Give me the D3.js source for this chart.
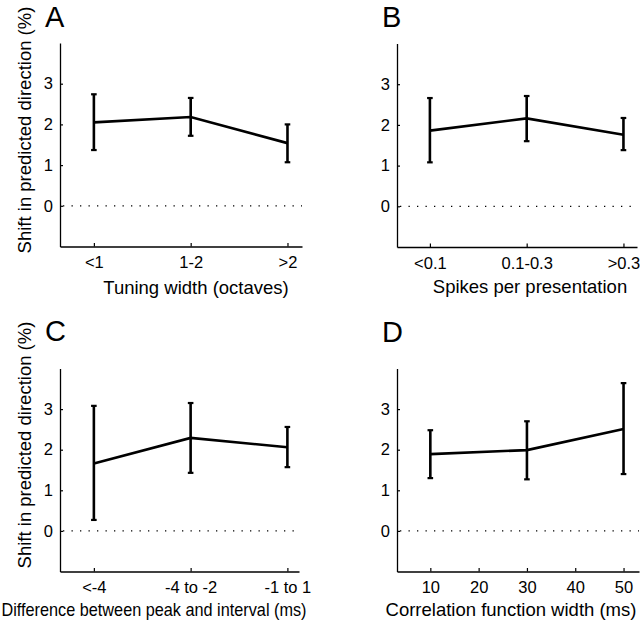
<!DOCTYPE html>
<html>
<head>
<meta charset="utf-8">
<script src="https://cdn.jsdelivr.net/npm/d3@7/dist/d3.min.js"></script>
<style>
  html, body { margin: 0; padding: 0; background: #fff; }
  svg { display: block; font-family: "Liberation Sans", Arial, Helvetica, sans-serif; }
</style>
</head>
<body>
<svg id="chart" width="640" height="620"></svg>
<script>
// ---- Data ----
const yTicks = [0, 1, 2, 3];

const catsA = ["<1", "1-2", ">2"];
const meanA = [2.05, 2.18, 1.54];
const upperA = [2.74, 2.65, 2.00];
const lowerA = [1.37, 1.72, 1.07];

const catsB = ["<0.1", "0.1-0.3", ">0.3"];
const meanB = [1.86, 2.16, 1.76];
const upperB = [2.66, 2.71, 2.17];
const lowerB = [1.08, 1.60, 1.38];

const catsC = ["<-4", "-4 to -2", "-1 to 1"];
const meanC = [1.66, 2.29, 2.06];
const upperC = [3.08, 3.15, 2.56];
const lowerC = [0.27, 1.43, 1.57];

const xD = [10, 30, 50];
const ticksD = [10, 20, 30, 40, 50];
const meanD = [1.89, 1.99, 2.51];
const upperD = [2.48, 2.70, 3.64];
const lowerD = [1.30, 1.27, 1.40];

const panelLetters = ["A", "B", "C", "D"];
const xLabels = ["Tuning width (octaves)", "Spikes per presentation",
                 "Difference between peak and interval (ms)", "Correlation function width (ms)"];
const yLabel = "Shift in predicted direction (%)";

// ---- Layout ----
const svg = d3.select("#chart");
const FONT = "Liberation Sans, Arial, sans-serif";

const panels = [
  { letter: panelLetters[0], cats: catsA, xs: [1, 2, 3], mean: meanA, up: upperA, lo: lowerA,
    left: 60, right: 302, top: 43, bottom: 246.5, xdom: [0.65, 3.15],
    lx: 45, ly: 27, xl: xLabels[0], xlx: 196, xly: 294, ylab: true, ylc: 130 },
  { letter: panelLetters[1], cats: catsB, xs: [1, 2, 3], mean: meanB, up: upperB, lo: lowerB,
    left: 397, right: 637, top: 43.5, bottom: 247, xdom: [0.66, 3.14],
    lx: 382, ly: 27, xl: xLabels[1], xlx: 530, xly: 293, ylab: false },
  { letter: panelLetters[2], cats: catsC, xs: [1, 2, 3], mean: meanC, up: upperC, lo: lowerC,
    left: 60, right: 299, top: 368.5, bottom: 571.5, xdom: [0.65, 3.12],
    lx: 45, ly: 341, xl: xLabels[2], xlx: 154, xly: 616, ylab: true, ylc: 445, xlLen: 305 },
  { letter: panelLetters[3], cats: null, xs: xD, ticks: ticksD, mean: meanD, up: upperD, lo: lowerD,
    left: 397, right: 639, top: 368.5, bottom: 571.5, xdom: [3.1, 53.2],
    lx: 382, ly: 342, xl: xLabels[3], xlx: 511, xly: 616, ylab: false }
];

panels.forEach(p => {
  const g = svg.append("g");
  const x = d3.scaleLinear().domain(p.xdom).range([p.left, p.right]);
  const y = d3.scaleLinear().domain([-1, 4]).range([p.bottom, p.top]);

  // zero dotted line
  g.append("line")
    .attr("x1", p.left + 3).attr("x2", p.right)
    .attr("y1", y(0)).attr("y2", y(0))
    .attr("stroke", "#000").attr("stroke-width", 1.3)
    .attr("stroke-dasharray", "1.3,7.2");

  // y axis
  const yAxis = d3.axisLeft(y).tickValues(yTicks).tickSizeInner(-3).tickSizeOuter(0).tickPadding(7)
    .tickFormat(d3.format("d"));
  const ya = g.append("g").attr("transform", `translate(${p.left},0)`).call(yAxis)
    .attr("font-size", null).attr("font-family", null);
  ya.select(".domain").attr("stroke-width", 1.3);
  ya.selectAll(".tick line").attr("stroke-width", 1.2);
  ya.selectAll(".tick text").style("font-size", "16.5px").attr("fill", "#000")
    .style("font-family", FONT);

  // x axis
  let xAxis;
  if (p.cats) {
    xAxis = d3.axisBottom(x).tickValues(p.xs).tickFormat((d, i) => p.cats[i]);
  } else {
    xAxis = d3.axisBottom(x).tickValues(p.ticks).tickFormat(d3.format("d"));
  }
  xAxis.tickSizeInner(-3.5).tickSizeOuter(0).tickPadding(10);
  const xa = g.append("g").attr("transform", `translate(0,${p.bottom})`).call(xAxis)
    .attr("font-size", null).attr("font-family", null);
  xa.select(".domain").attr("stroke-width", 1.3);
  xa.selectAll(".tick line").attr("stroke-width", 1.2);
  xa.selectAll(".tick text").style("font-size", "16.5px").attr("fill", "#000")
    .style("font-family", FONT);

  // error bars
  const idx = d3.range(p.xs.length);
  g.selectAll(".eb").data(idx).join("line")
    .attr("x1", i => x(p.xs[i])).attr("x2", i => x(p.xs[i]))
    .attr("y1", i => y(p.lo[i])).attr("y2", i => y(p.up[i]))
    .attr("stroke", "#000").attr("stroke-width", 2.6);
  [p.lo, p.up].forEach(arr => {
    g.selectAll(null).data(idx).join("line")
      .attr("x1", i => x(p.xs[i]) - 2.8).attr("x2", i => x(p.xs[i]) + 2.8)
      .attr("y1", i => y(arr[i])).attr("y2", i => y(arr[i]))
      .attr("stroke", "#000").attr("stroke-width", 2.2);
  });

  // mean line
  const line = d3.line().x(i => x(p.xs[i])).y(i => y(p.mean[i]));
  g.append("path").datum(idx).attr("d", line)
    .attr("fill", "none").attr("stroke", "#000").attr("stroke-width", 2.6)
    .attr("stroke-linejoin", "miter");

  // panel letter
  g.append("text").attr("x", p.lx).attr("y", p.ly).text(p.letter)
    .style("font-size", "29px").attr("fill", "#000");

  // x label
  const xt = g.append("text").attr("x", p.xlx).attr("y", p.xly).attr("text-anchor", "middle")
    .style("font-size", "18.5px").attr("fill", "#000").text(p.xl);
  if (p.xlLen) xt.attr("textLength", p.xlLen).attr("lengthAdjust", "spacingAndGlyphs");

  // y label
  if (p.ylab) {
    g.append("text").attr("transform", `translate(31,${p.ylc}) rotate(-90)`)
      .attr("text-anchor", "middle").style("font-size", "18.5px").attr("fill", "#000").text(yLabel);
  }
});
</script>
</body>
</html>
